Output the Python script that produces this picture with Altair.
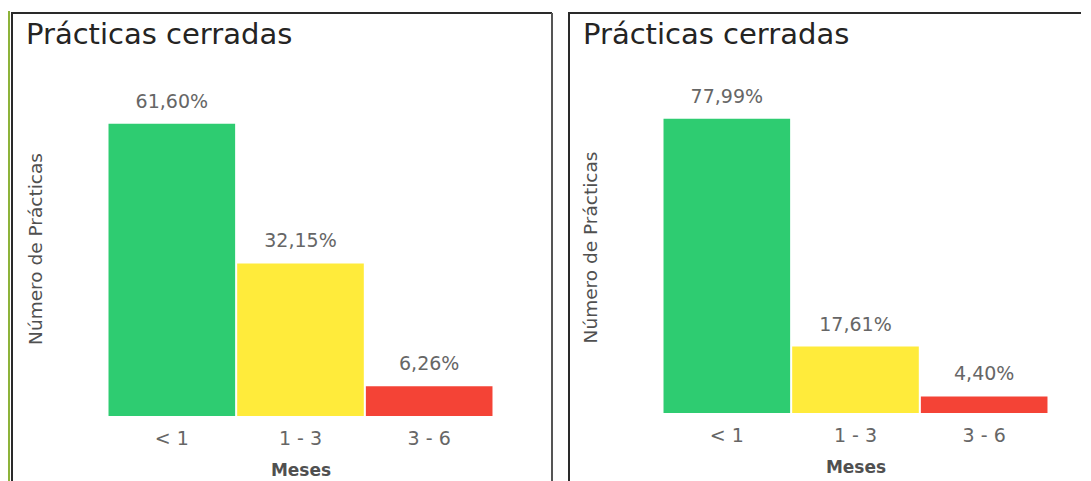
import altair as alt
import pandas as pd

meses = ["< 1", "1 - 3", "3 - 6"]
left_vals = [61.60, 32.15, 6.26]
right_vals = [77.99, 17.61, 4.40]
bar_colors = ["#2ECC71", "#FFEB3B", "#F44336"]
titulo = "Prácticas cerradas"
y_titulo = "Número de Prácticas"
x_titulo = "Meses"

FONT = "DejaVu Sans"
W = 385
FRAME = "#2a2a2a"


def fmt(v):
    return f"{v:.2f}".replace(".", ",") + "%"


def panel(vals, ymax, height, fl, fr, green=False, right_edge=True):
    df = pd.DataFrame({"mes": meses, "valor": vals, "label": [fmt(v) for v in vals]})
    base = alt.Chart(df)
    x = alt.X(
        "mes:N",
        sort=meses,
        scale=alt.Scale(paddingInner=0.016, paddingOuter=0.004),
        axis=alt.Axis(
            title=x_titulo,
            labelAngle=0,
            domain=False,
            ticks=False,
            labelFontSize=19,
            labelColor="#666666",
            labelFont=FONT,
            labelPadding=13,
            titleFont=FONT,
            titleFontSize=17,
            titleFontWeight="bold",
            titleColor="#505050",
            titlePadding=14,
        ),
    )
    y = alt.Y(
        "valor:Q",
        scale=alt.Scale(domain=[0, ymax], nice=False),
        axis=alt.Axis(
            title=y_titulo,
            labels=False,
            ticks=False,
            domain=False,
            grid=False,
            titleFont=FONT,
            titleFontSize=18.5,
            titleFontWeight="normal",
            titleColor="#505050",
            titlePadding=63,
        ),
    )
    bars = base.mark_bar().encode(
        x=x,
        y=y,
        color=alt.Color("mes:N", scale=alt.Scale(domain=meses, range=bar_colors), legend=None),
    )
    text = base.mark_text(baseline="alphabetic", dy=-16, fontSize=19, font=FONT, color="#666666").encode(
        x=alt.X("mes:N", sort=meses), y="valor:Q", text="label:N"
    )
    one = alt.Chart(pd.DataFrame({"t": [titulo]}))
    bottom = height + 90
    top_line = one.mark_rule(color=FRAME, strokeWidth=2).encode(
        x=alt.value(fl - 1), x2=alt.value(W + fr), y=alt.value(-68)
    )
    left_line = one.mark_rule(color=FRAME, strokeWidth=2).encode(
        x=alt.value(fl), y=alt.value(-68), y2=alt.value(bottom)
    )
    title = one.mark_text(align="left", baseline="alphabetic", fontSize=29, font=FONT, color="#252423").encode(
        x=alt.value(fl + 14), y=alt.value(-37), text="t:N"
    )
    layers = [top_line, left_line]
    if right_edge:
        layers.append(
            one.mark_rule(color="#555555", strokeWidth=2).encode(
                x=alt.value(W + fr), y=alt.value(-68), y2=alt.value(bottom)
            )
        )
    if green:
        layers.insert(
            0,
            one.mark_rule(color="#8DB33A", strokeWidth=2).encode(
                x=alt.value(fl - 3), y=alt.value(-70), y2=alt.value(bottom)
            ),
        )
    layers += [bars, text, title]
    return alt.layer(*layers).properties(width=W, height=height)


left = panel(left_vals, 70.6, 335, -96, 59, green=True)
right = panel(right_vals, 88.0, 332, -94, 33, right_edge=False)

chart = (
    alt.hconcat(left, right, spacing=14)
    .resolve_scale(color="independent", y="independent")
    .configure_view(stroke=None)
    .properties(padding={"left": 0, "top": 2, "right": 0, "bottom": 0})
)

chart.save("out.html", embed_options={"renderer": "svg", "actions": False})
